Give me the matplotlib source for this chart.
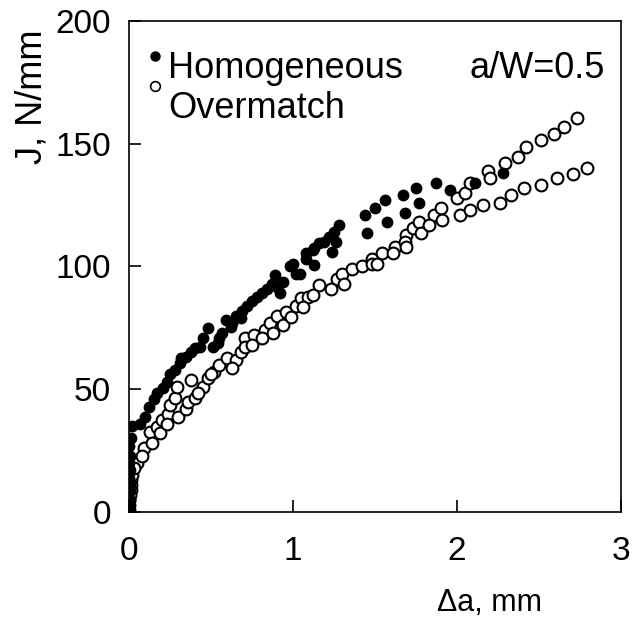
import matplotlib
matplotlib.use("Agg")
import matplotlib.pyplot as plt

plt.rcParams['font.family'] = ['Liberation Sans', 'DejaVu Sans']

# Homogeneous specimen (filled circles)
hom_da = [0, 0, 0.005, 0, 0.005, 0, 0.005, 0, 0.005, 0, 0.01, 0.02,
          0.07, 0.10, 0.12, 0.15, 0.17, 0.21, 0.23, 0.25, 0.28, 0.31, 0.32,
          0.35, 0.38, 0.40, 0.43, 0.45, 0.48, 0.51, 0.54, 0.55, 0.57, 0.59,
          0.62, 0.63, 0.65, 0.68, 0.69, 0.72, 0.75, 0.78, 0.81, 0.84, 0.87,
          0.89, 0.90, 0.92, 0.94, 0.98, 1.00, 1.02, 1.04, 1.08, 1.08, 1.12,
          1.13, 1.13, 1.16, 1.19, 1.22, 1.24, 1.25, 1.26, 1.28, 1.44, 1.45,
          1.50, 1.56, 1.57, 1.67, 1.68, 1.75, 1.77, 1.87, 1.96, 2.11, 2.28]
hom_J = [0, 2, 5, 8, 11, 14, 17, 20, 23, 27, 30, 35,
         36, 38.7, 42.8, 46, 48.5, 50.5, 53, 56, 58, 60.7, 62.7,
         63, 65, 66.8, 67, 71, 75, 67, 69, 71, 73, 78,
         75.5, 77, 80, 79, 82, 84, 86, 87.6, 89, 91, 93,
         96.5, 91.6, 89, 93.7, 100, 101, 97, 97, 103, 105.5, 106.7,
         100.6, 107.5, 109.6, 110, 112, 106, 114, 110, 117, 121, 113.6,
         124, 127, 118, 129, 121.8, 132, 126, 134, 131, 134, 138]

# Overmatch specimen A (open circles, upper branch)
ovA_da = [0, 0, 0.01, 0.01, 0.02, 0.05, 0.09, 0.13, 0.17, 0.20, 0.24, 0.25,
          0.28, 0.29, 0.38, 0.45, 0.48, 0.52, 0.55, 0.60, 0.65, 0.68, 0.71,
          0.76, 0.83, 0.86, 0.90, 0.96, 1.02, 1.05, 1.09, 1.16, 1.27, 1.30,
          1.36, 1.42, 1.48, 1.54, 1.62, 1.69, 1.73, 1.77, 1.86, 1.90, 2.00,
          2.05, 2.08, 2.19, 2.20, 2.29, 2.37, 2.42, 2.51, 2.59, 2.65, 2.73]
ovA_J = [1, 5, 9, 13, 17, 20, 26, 32.6, 34.6, 37.5, 40, 43.6,
         46.4, 51, 53.8, 51, 54.6, 57, 60, 62.7, 62, 65, 71,
         72, 74, 77, 80, 81.5, 84, 87, 87.6, 92.5, 95, 97,
         99, 100, 103, 105.5, 108, 113, 115.7, 118, 121, 124, 128,
         130, 134, 139, 136, 142, 144.6, 148.7, 151.5, 154, 157, 160.5]

# Overmatch specimen B (open circles, lower branch)
ovB_da = [0, 0.005, 0.01, 0.02, 0.03, 0.08, 0.14, 0.19, 0.23, 0.30, 0.35,
          0.36, 0.40, 0.42, 0.50, 0.63, 0.71, 0.75, 0.81, 0.88, 0.94, 0.99,
          1.06, 1.12, 1.23, 1.31, 1.48, 1.51, 1.61, 1.68, 1.69, 1.78, 1.83,
          1.91, 2.02, 2.08, 2.16, 2.26, 2.33, 2.41, 2.51, 2.61, 2.71, 2.79]
ovB_J = [3, 7, 11, 15, 18, 23, 28, 32, 36, 38.7, 42,
         45, 46.4, 48.5, 56, 58.6, 67, 68, 71, 73, 76, 79.5,
         83.5, 88.4, 91, 93, 101, 101, 105.5, 110, 108, 113.6, 117,
         119, 121, 123, 125, 126, 129, 132, 133, 136, 137.7, 140]

x_ticks = [0, 1, 2, 3]
y_ticks = [0, 50, 100, 150, 200]

fig = plt.figure(figsize=(6.33, 6.19), dpi=100)
ax = fig.add_axes([0.2038, 0.1729, 0.7773, 0.7932])

ax.plot(ovA_da, ovA_J, 'o', ms=8.5, mfc='white', mec='black', mew=1.5, ls='none')
ax.plot(ovB_da, ovB_J, 'o', ms=8.5, mfc='white', mec='black', mew=1.5, ls='none')
ax.plot(hom_da, hom_J, 'o', ms=7.5, mfc='black', mec='black', ls='none')

ax.set_xlim(0, 3)
ax.set_ylim(0, 200)
ax.set_xticks(x_ticks)
ax.set_yticks(y_ticks)
ax.tick_params(direction='in', length=8.5, width=1.2, labelsize=24,
               top=False, right=False)
ax.tick_params(axis='x', pad=17)
ax.tick_params(axis='y', pad=13)
for s in ax.spines.values():
    s.set_linewidth(1.2)

ax.set_xlabel('Δa, mm', fontsize=22)
ax.xaxis.set_label_coords(0.732, -0.185)
ax.xaxis.label.set_va('center')
ax.set_ylabel('J, N/mm', fontsize=26)
ax.yaxis.set_label_coords(-0.197, 0.845)
ax.yaxis.label.set_va('center')

# legend
ax.plot([0.053], [0.929], 'o', ms=6.5, mfc='black', mec='black',
        transform=ax.transAxes, clip_on=False)
ax.plot([0.053], [0.868], 'o', ms=7, mfc='white', mec='black', mew=1.2,
        transform=ax.transAxes, clip_on=False)
ax.text(0.079, 0.884, 'Homogeneous', fontsize=26, transform=ax.transAxes,
        ha='left', va='baseline')
ax.text(0.079, 0.802, 'Overmatch', fontsize=26, transform=ax.transAxes,
        ha='left', va='baseline')
ax.text(0.967, 0.884, 'a/W=0.5', fontsize=26, transform=ax.transAxes,
        ha='right', va='baseline')

fig.savefig('out.png', dpi=100)
